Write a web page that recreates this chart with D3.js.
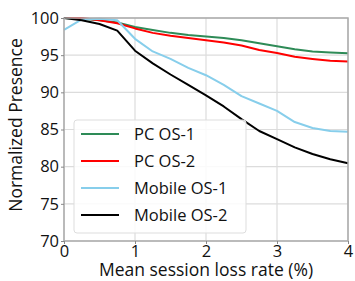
<!DOCTYPE html>
<html>
<head>
<meta charset="utf-8">
<script src="https://cdn.jsdelivr.net/npm/d3@7"></script>
<style>
  body { margin: 0; background: #fff; }
  svg { font-family: "Open Sans", "Noto Sans", sans-serif; }
</style>
</head>
<body>
<div id="chart"></div>
<script>
// ==================== donnees ====================//
const lossRate = [0, 0.25, 0.5, 0.75, 1, 1.25, 1.5, 1.75, 2, 2.25, 2.5, 2.75, 3, 3.25, 3.5, 3.75, 4];

const pcOs1     = [100, 99.9, 99.7, 99.4, 98.8, 98.4, 98.0, 97.7, 97.5, 97.3, 97.0, 96.6, 96.2, 95.8, 95.5, 95.35, 95.25];
const pcOs2     = [100, 100, 99.7, 99.3, 98.6, 98.0, 97.6, 97.3, 97.0, 96.7, 96.3, 95.7, 95.3, 94.8, 94.5, 94.25, 94.15];
const mobileOs1 = [98.4, 99.8, 99.9, 99.7, 97.2, 95.5, 94.5, 93.3, 92.3, 91.0, 89.5, 88.5, 87.5, 86.0, 85.2, 84.8, 84.7];
const mobileOs2 = [100, 99.7, 99.2, 98.3, 95.6, 93.9, 92.4, 91.0, 89.6, 88.1, 86.4, 84.8, 83.7, 82.6, 81.7, 81.0, 80.45];

const seriesNames  = ["PC OS-1", "PC OS-2", "Mobile OS-1", "Mobile OS-2"];
const seriesColors = ["#2e8b57", "#ff0000", "#87ceeb", "#000000"];
const seriesValues = [pcOs1, pcOs2, mobileOs1, mobileOs2];

const xTicks = [0, 1, 2, 3, 4];
const yTicks = [70, 75, 80, 85, 90, 95, 100];

// ==================== svg ====================//
const width = 355;
const height = 281;
const margin = { top: 18, right: 7, bottom: 40, left: 64 };

const svg = d3.select("#chart")
    .append("svg")
    .attr("width", width)
    .attr("height", height);

const x = d3.scaleLinear().domain([0, 4]).range([margin.left, width - margin.right]);
const y = d3.scaleLinear().domain([70, 100]).range([height - margin.bottom, margin.top]);

// grille
svg.append("g")
    .selectAll("line.vx")
    .data(xTicks)
    .enter()
    .append("line")
    .attr("x1", d => x(d)).attr("x2", d => x(d))
    .attr("y1", y(70)).attr("y2", y(100))
    .attr("stroke", "#dcdcdc")
    .attr("stroke-width", 1.2);

svg.append("g")
    .selectAll("line.hy")
    .data(yTicks)
    .enter()
    .append("line")
    .attr("x1", x(0)).attr("x2", x(4))
    .attr("y1", d => y(d)).attr("y2", d => y(d))
    .attr("stroke", "#dcdcdc")
    .attr("stroke-width", 1.2);

// lignes
const line = d3.line()
    .x((d, i) => x(lossRate[i]))
    .y(d => y(d));

seriesValues.forEach((vals, k) => {
    svg.append("path")
        .datum(vals)
        .attr("d", line)
        .attr("fill", "none")
        .attr("stroke", seriesColors[k])
        .attr("stroke-width", 2)
        .attr("stroke-linejoin", "round");
});

// cadre
svg.append("rect")
    .attr("x", x(0)).attr("y", y(100))
    .attr("width", x(4) - x(0)).attr("height", y(70) - y(100))
    .attr("fill", "none")
    .attr("stroke", "#aaaaaa")
    .attr("stroke-width", 1.5);

// axes
const xAxis = svg.append("g")
    .attr("transform", `translate(0,${y(70)})`)
    .call(d3.axisBottom(x).tickValues(xTicks).tickSize(3).tickPadding(1).tickFormat(d3.format("d")));

const yAxis = svg.append("g")
    .attr("transform", `translate(${x(0)},0)`)
    .call(d3.axisLeft(y).tickValues(yTicks).tickSize(3).tickPadding(2).tickFormat(d3.format("d")));

[xAxis, yAxis].forEach(a => {
    a.select(".domain").remove();
    a.selectAll(".tick line").attr("stroke", "#888");
    a.selectAll(".tick text")
        .attr("fill", "#111")
        .style("font-size", "16.5px")
        .style("font-family", "'Open Sans', 'Noto Sans', sans-serif");
});

// titres des axes
svg.append("text")
    .attr("x", (x(0) + x(4)) / 2)
    .attr("y", 276)
    .attr("text-anchor", "middle")
    .style("font-size", "17.5px")
    .attr("fill", "#111")
    .text("Mean session loss rate (%)");

svg.append("text")
    .attr("transform", `translate(22,125) rotate(-90)`)
    .attr("text-anchor", "middle")
    .style("font-size", "17.5px")
    .attr("fill", "#111")
    .text("Normalized Presence");

// legende
const legend = svg.append("g");
legend.append("rect")
    .attr("x", 74).attr("y", 120)
    .attr("width", 172).attr("height", 113)
    .attr("rx", 3)
    .attr("fill", "rgba(255,255,255,0.85)")
    .attr("stroke", "#dddddd");

seriesNames.forEach((name, k) => {
    const ly = 134 + k * 27;
    legend.append("line")
        .attr("x1", 81).attr("x2", 119)
        .attr("y1", ly).attr("y2", ly)
        .attr("stroke", seriesColors[k])
        .attr("stroke-width", 2);
    legend.append("text")
        .attr("x", 134).attr("y", ly)
        .attr("dy", "0.35em")
        .style("font-size", "16.5px")
        .attr("fill", "#111")
        .text(name);
});
</script>
</body>
</html>
